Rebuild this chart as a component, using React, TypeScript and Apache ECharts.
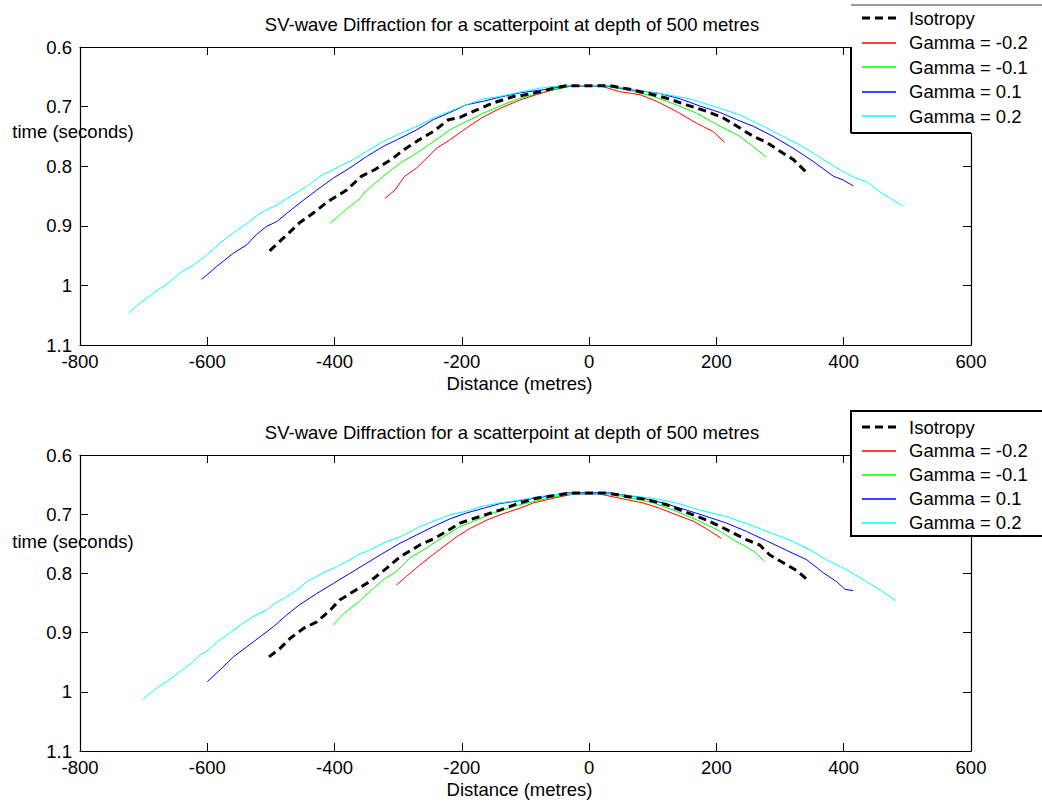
import React, { useEffect, useRef } from "react";
import * as echarts from "echarts";

// ---- axis ranges / labels ----
const X_MIN = -800;
const X_MAX = 600;
const X_STEP = 200;
const T_MIN = 0.6;
const T_MAX = 1.1;
const T_STEP = 0.1;
const TITLE = "SV-wave Diffraction for a scatterpoint at depth of 500 metres";
const X_NAME = "Distance (metres)";
const Y_NAME = "time (seconds)";
const SERIES_NAMES = ["Isotropy", "Gamma = -0.2", "Gamma = -0.1", "Gamma = 0.1", "Gamma = 0.2"];
const SERIES_COLORS = ["#000000", "#ff0000", "#00ff00", "#0000ff", "#00ffff"];

// ---- top panel data: [distance (m), time (s)] ----
const TOP_ISO = [[-502,0.942],[-481,0.921],[-455,0.895],[-434,0.879],[-410,0.859],[-381,0.840],[-358,0.817],[-337,0.806],[-310,0.788],[-292,0.773],[-263,0.753],[-245,0.742],[-221,0.722],[-203,0.718],[-182,0.708],[-151,0.694],[-119,0.683],[-109,0.682],[-77,0.675],[-56,0.669],[-36,0.665],[33,0.665],[64,0.671],[101,0.680],[122,0.686],[153,0.697],[185,0.708],[211,0.719],[237,0.736],[258,0.750],[279,0.760],[300,0.775],[321,0.789],[342,0.811]];
const TOP_RED = [[-321,0.854],[-305,0.840],[-290,0.817],[-271,0.803],[-253,0.784],[-240,0.770],[-219,0.756],[-193,0.736],[-169,0.719],[-140,0.703],[-109,0.689],[-83,0.680],[-56,0.672],[-30,0.666],[17,0.665],[48,0.675],[80,0.680],[106,0.691],[137,0.708],[169,0.728],[195,0.742],[213,0.760]];
const TOP_GREEN = [[-407,0.896],[-386,0.876],[-360,0.854],[-352,0.843],[-324,0.817],[-297,0.795],[-271,0.778],[-245,0.759],[-219,0.739],[-193,0.725],[-166,0.711],[-140,0.699],[-109,0.686],[-77,0.677],[-46,0.669],[-25,0.665],[22,0.665],[59,0.672],[101,0.683],[137,0.697],[169,0.711],[206,0.733],[237,0.750],[258,0.767],[278,0.785]];
const TOP_BLUE = [[-609,0.990],[-585,0.968],[-559,0.946],[-538,0.932],[-523,0.915],[-507,0.901],[-491,0.893],[-475,0.879],[-455,0.862],[-428,0.840],[-402,0.820],[-376,0.803],[-350,0.784],[-324,0.767],[-297,0.753],[-271,0.739],[-245,0.722],[-219,0.710],[-193,0.697],[-166,0.691],[-140,0.684],[-109,0.677],[-67,0.671],[-36,0.665],[27,0.665],[69,0.672],[111,0.678],[143,0.687],[174,0.699],[206,0.710],[232,0.722],[258,0.733],[289,0.750],[321,0.770],[352,0.792],[384,0.817],[399,0.823],[415,0.833]];
const TOP_CYAN = [[-724,1.046],[-706,1.030],[-685,1.013],[-664,0.998],[-640,0.977],[-622,0.966],[-601,0.949],[-580,0.929],[-559,0.912],[-538,0.896],[-517,0.879],[-491,0.865],[-470,0.851],[-444,0.834],[-423,0.817],[-397,0.803],[-371,0.789],[-350,0.775],[-324,0.759],[-297,0.745],[-266,0.731],[-245,0.719],[-219,0.708],[-193,0.697],[-166,0.687],[-140,0.683],[-109,0.676],[-77,0.669],[-46,0.665],[33,0.665],[75,0.672],[122,0.680],[158,0.687],[206,0.703],[237,0.714],[274,0.733],[305,0.750],[336,0.767],[368,0.789],[394,0.806],[415,0.818],[436,0.826],[457,0.843],[478,0.857],[493,0.867]];

// ---- bottom panel data ----
const BOT_ISO = [[-503,0.941],[-486,0.927],[-470,0.910],[-449,0.893],[-428,0.882],[-407,0.862],[-392,0.845],[-371,0.831],[-345,0.814],[-318,0.791],[-297,0.772],[-266,0.752],[-245,0.742],[-224,0.729],[-203,0.715],[-172,0.704],[-140,0.693],[-109,0.681],[-83,0.673],[-56,0.669],[-30,0.664],[27,0.664],[59,0.670],[90,0.675],[122,0.684],[153,0.697],[185,0.710],[216,0.726],[247,0.743],[268,0.752],[284,0.769],[305,0.782],[326,0.795],[342,0.810]];
const BOT_RED = [[-303,0.820],[-287,0.805],[-266,0.786],[-250,0.772],[-229,0.755],[-208,0.738],[-187,0.724],[-161,0.710],[-140,0.701],[-109,0.690],[-88,0.681],[-56,0.673],[-25,0.666],[17,0.666],[48,0.673],[85,0.681],[111,0.690],[137,0.701],[164,0.712],[185,0.725],[208,0.741]];
const BOT_GREEN = [[-402,0.887],[-386,0.868],[-365,0.851],[-345,0.831],[-324,0.811],[-303,0.797],[-282,0.774],[-255,0.757],[-229,0.738],[-203,0.721],[-177,0.710],[-151,0.698],[-109,0.684],[-77,0.676],[-46,0.669],[-20,0.664],[22,0.664],[59,0.671],[101,0.681],[137,0.695],[174,0.712],[206,0.729],[226,0.743],[247,0.755],[263,0.766],[275,0.780]];
const BOT_BLUE = [[-600,0.983],[-580,0.963],[-559,0.941],[-538,0.924],[-517,0.907],[-496,0.890],[-475,0.870],[-455,0.853],[-428,0.834],[-402,0.817],[-376,0.800],[-350,0.783],[-324,0.766],[-297,0.749],[-271,0.735],[-245,0.721],[-219,0.708],[-193,0.698],[-166,0.690],[-140,0.682],[-109,0.677],[-67,0.670],[-36,0.664],[33,0.664],[75,0.671],[116,0.681],[153,0.693],[185,0.704],[216,0.715],[247,0.729],[279,0.745],[310,0.761],[342,0.777],[368,0.799],[389,0.814],[402,0.827],[415,0.829]];
const BOT_CYAN = [[-701,1.013],[-685,0.998],[-664,0.983],[-643,0.966],[-622,0.949],[-612,0.938],[-599,0.930],[-585,0.916],[-565,0.901],[-544,0.884],[-528,0.873],[-507,0.862],[-496,0.852],[-475,0.839],[-455,0.825],[-444,0.814],[-418,0.799],[-397,0.789],[-376,0.777],[-360,0.767],[-345,0.761],[-324,0.749],[-297,0.738],[-266,0.721],[-245,0.712],[-219,0.701],[-193,0.695],[-166,0.686],[-140,0.681],[-109,0.676],[-77,0.670],[-46,0.666],[38,0.666],[101,0.673],[137,0.681],[174,0.693],[216,0.704],[258,0.720],[289,0.733],[321,0.746],[347,0.760],[373,0.777],[405,0.794],[436,0.814],[457,0.828],[482,0.846]];

const TOP_SERIES = [TOP_ISO, TOP_RED, TOP_GREEN, TOP_BLUE, TOP_CYAN];
const BOT_SERIES = [BOT_ISO, BOT_RED, BOT_GREEN, BOT_BLUE, BOT_CYAN];

const FONT = '"Liberation Sans", Arial, Helvetica, sans-serif';
const FS = 18.5;

const PANELS = [
  { grid: { left: 80, top: 47, width: 891, height: 298 }, titleY: 24, yNameY: 131, data: TOP_SERIES, legendRow0: 18, legendPitch: 24.6 },
  { grid: { left: 80, top: 455, width: 891, height: 296 }, titleY: 432, yNameY: 541, data: BOT_SERIES, legendRow0: 427, legendPitch: 23.9 },
];

export default function App() {
  const ref = useRef<HTMLDivElement>(null);
  useEffect(() => {
    if (!ref.current) return;
    const chart = echarts.init(ref.current, null, { renderer: "svg" });
    const axisLine = { show: true, onZero: false, lineStyle: { color: "#000", width: 1.2 } };
    const axisTick = { show: true, inside: true, length: 8, lineStyle: { color: "#000", width: 1 } };
    const labelStyle = { color: "#000", fontSize: FS, fontFamily: FONT };

    const xAxis: any[] = [];
    const yAxis: any[] = [];
    const series: any[] = [];
    const graphic: any[] = [];

    PANELS.forEach((p, gi) => {
      xAxis.push({
        type: "value", gridIndex: gi, position: "bottom", min: X_MIN, max: X_MAX, interval: X_STEP,
        axisLine, axisTick, splitLine: { show: false },
        axisLabel: { ...labelStyle, margin: 9, lineHeight: 14 },
        name: X_NAME, nameLocation: "middle", nameGap: 29,
        nameTextStyle: { ...labelStyle, padding: [0, 12, 0, 0] },
      });
      xAxis.push({
        type: "value", gridIndex: gi, position: "top", min: X_MIN, max: X_MAX, interval: X_STEP,
        axisLine, axisTick, splitLine: { show: false }, axisLabel: { show: false },
      });
      yAxis.push({
        type: "value", gridIndex: gi, position: "left", inverse: true, min: T_MIN, max: T_MAX, interval: T_STEP,
        axisLine, axisTick, splitLine: { show: false },
        axisLabel: { ...labelStyle, margin: 8, lineHeight: 14, formatter: (v: number) => String(Math.round(v * 10) / 10) },
      });
      yAxis.push({
        type: "value", gridIndex: gi, position: "right", inverse: true, min: T_MIN, max: T_MAX, interval: T_STEP,
        axisLine, axisTick, splitLine: { show: false }, axisLabel: { show: false },
      });
      // draw gammas first, isotropy last (on top)
      [1, 2, 3, 4, 0].forEach((si) => {
        const iso = si === 0;
        series.push({
          type: "line",
          name: SERIES_NAMES[si],
          xAxisIndex: gi * 2,
          yAxisIndex: gi * 2,
          data: p.data[si],
          showSymbol: false,
          symbol: "none",
          silent: true,
          z: iso ? 5 : 3,
          lineStyle: { color: SERIES_COLORS[si], width: iso ? 3 : 1, type: iso ? [8, 5] : "solid" },
        });
      });

      graphic.push({
        type: "text", z: 50,
        style: { text: TITLE, x: 512, y: p.titleY, textAlign: "center", textVerticalAlign: "middle", align: "center", verticalAlign: "middle", fill: "#000", fontSize: FS, fontFamily: FONT },
      });
      graphic.push({
        type: "text", z: 50,
        style: { text: Y_NAME, x: 73, y: p.yNameY, textAlign: "center", textVerticalAlign: "middle", align: "center", verticalAlign: "middle", fill: "#000", fontSize: FS, fontFamily: FONT },
      });

      // legend box
      if (gi === 0) {
        graphic.push({ type: "rect", z: 100, shape: { x: 851, y: 5, width: 200, height: 128 }, style: { fill: "#fff" } });
        graphic.push({ type: "line", z: 101, shape: { x1: 851, y1: 5, x2: 1042, y2: 5 }, style: { stroke: "#777", lineWidth: 1.5 } });
        graphic.push({ type: "line", z: 101, shape: { x1: 851, y1: 47, x2: 851, y2: 133 }, style: { stroke: "#000", lineWidth: 2 } });
        graphic.push({ type: "line", z: 101, shape: { x1: 851, y1: 133, x2: 971, y2: 133 }, style: { stroke: "#000", lineWidth: 2 } });
      } else {
        graphic.push({ type: "rect", z: 100, shape: { x: 851, y: 411, width: 200, height: 125 }, style: { fill: "#fff", stroke: "#000", lineWidth: 2 } });
      }
      SERIES_NAMES.forEach((nm, si) => {
        const y = p.legendRow0 + si * p.legendPitch;
        const iso = si === 0;
        const ly = Math.round(y);
        const lineStyle: any = { stroke: SERIES_COLORS[si], lineWidth: iso ? 3 : 1.5 };
        if (iso) lineStyle.lineDash = [8, 5];
        graphic.push({ type: "line", z: 102, shape: { x1: 862, y1: ly, x2: 896, y2: ly }, style: lineStyle });
        graphic.push({
          type: "text", z: 102,
          style: { text: nm, x: 909, y, textAlign: "left", textVerticalAlign: "middle", align: "left", verticalAlign: "middle", fill: "#000", fontSize: FS, fontFamily: FONT },
        });
      });
    });

    chart.setOption({
      animation: false,
      backgroundColor: "#fff",
      textStyle: { fontFamily: FONT },
      grid: PANELS.map((p) => ({ ...p.grid, containLabel: false })),
      xAxis,
      yAxis,
      series,
      graphic,
    });
    return () => chart.dispose();
  }, []);
  return <div ref={ref} style={{ position: "absolute", left: 0, top: 0, width: 1042, height: 805 }} />;
}
